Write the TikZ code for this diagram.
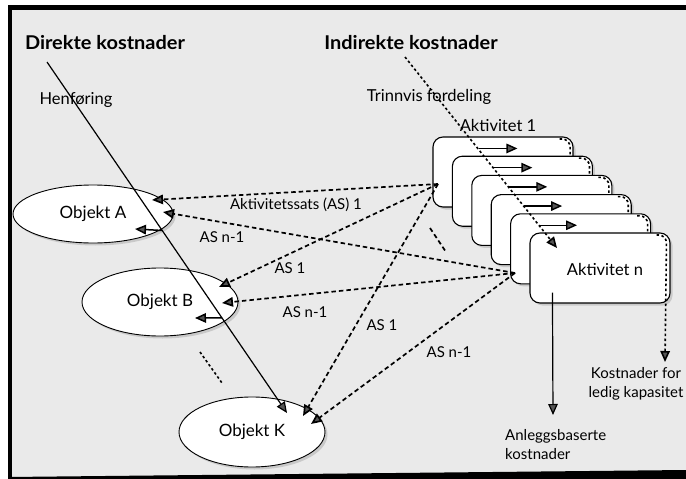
\documentclass[tikz,border=0pt]{standalone}
\usepackage{fontspec}
\setmainfont{Lato}
\newfontfamily\lab{Lato}
\newfontfamily\labh[FakeStretch=1.05]{Lato}
\usetikzlibrary{shapes.geometric,arrows.meta,shadows,calc}
\definecolor{bg}{RGB}{234,234,234}
\definecolor{tipgray}{RGB}{85,85,85}
\tikzset{
  lbl/.style={font=\lab\fontsize{15}{19}\selectfont, inner sep=0pt},
  lblb/.style={font=\lab\fontsize{16.5}{19}\selectfont, inner sep=0pt},
  hdr/.style={font=\labh\bfseries\fontsize{19}{22}\selectfont, inner sep=0pt},
  shad/.style={drop shadow={opacity=0.3, shadow xshift=2.5pt, shadow yshift=-2.5pt}},
  obj/.style={ellipse, draw=black, line width=0.9pt, fill=white, shad, inner sep=0pt,
     font=\lab\fontsize{17}{19}\selectfont},
  act/.style={rectangle, rounded corners=10pt, draw=black, line width=1.1pt, fill=white,
     minimum width=140pt, minimum height=70pt, inner sep=0pt, shad},
  arr/.style={-{Triangle[length=11pt,width=9.5pt,fill=tipgray]}},
  dashl/.style={line width=1.7pt, dash pattern=on 4.5pt off 3pt},
  dotl/.style={line width=1.6pt, dash pattern=on 2.5pt off 2.5pt},
  soll/.style={line width=1.2pt},
}
\begin{document}
\begin{tikzpicture}[x=1pt,y=-1pt]
\useasboundingbox (0,0) rectangle (686,479);
% background and frame
\fill[white] (0,0) rectangle (686,479);
\fill[bg] (12,10) rectangle (686,477);
\fill[black] (8,5) rectangle (686,10);
\fill[black] (8,5) rectangle (12,479);
\fill[black] (8,477) -- (686,470) -- (686,479) -- (8,479) -- cycle;

% cost objects
\node[obj, minimum width=160pt, minimum height=58pt] (objA) at (93,214) {Objekt A};
\node[obj, minimum width=156pt, minimum height=68pt] (objB) at (160,302) {Objekt B};
\node[obj, minimum width=146pt, minimum height=70pt] (objK) at (252,432) {Objekt K};

% activity stack
\foreach \k in {1,...,6}{
  \node[act] (act\k) at ({503+19.4*(\k-1)},{172+19.2*(\k-1)}) {};
}

% texts
\node[hdr] (tdir) at (105,43) {Direkte kostnader};
\node[hdr] (tind) at (411,43) {Indirekte kostnader};
\node[lblb] (then) at (76,100) {Henføring};
\node[lblb] (ttrin) at (429,97) {Trinnvis fordeling};
\node[lblb] (takt1) at (498,125) {Aktivitet 1};
\node[lblb] (taktn) at (605,269) {Aktivitet n};
\node[lbl] (las1a) at (296,205) {Aktivitetssats (AS) 1};
\node[lbl] (lasna) at (222,237) {AS n-1};
\node[lbl] (las1b) at (290,268) {AS 1};
\node[lbl] (lasnb) at (305,312) {AS n-1};
\node[lbl] (las1k) at (382,325) {AS 1};
\node[lbl] (lasnk) at (449,352) {AS n-1};
\node[lbl, align=center] (tkap) at (636,384) {Kostnader for\\ledig kapasitet};
\node[lbl, align=left, anchor=west] (tanl) at (505,445) {Anleggsbaserte\\kostnader};

% coordinates
\coordinate (dtop) at (47,62);
\coordinate (K1) at (287,413);
\coordinate (K2) at (303,416);
\coordinate (K3) at (311,424);
\coordinate (A1) at (152,200);
\coordinate (A2) at (163,212);
\coordinate (Ad) at (135,229);
\coordinate (B1) at (219,287);
\coordinate (B2) at (222,303);
\coordinate (Bd) at (195,318);
\coordinate (P1) at (438,184);
\coordinate (P2) at (515,273);
\coordinate (itop) at (405,57);
\coordinate (itip) at (557,248);
\coordinate (anltip) at (553,415);
\coordinate (kaptip) at (665,362);

% direct costs
\draw[soll, arr] (dtop) -- (K1);
\draw[soll, line width=1.5pt, arr] ($(dtop)!0.48!(K1)$) -- (Ad);
\draw[soll, line width=1.5pt, arr] ($(dtop)!0.729!(K1)$) -- (Bd);

% activity rates
\draw[dashl, arr] (P1) -- (A1);
\draw[dashl, arr] (P1) -- (B1);
\draw[dashl, arr] (P1) -- (K2);
\draw[dashl, arr] (P2) -- (A2);
\draw[dashl, arr] (P2) -- (B2);
\draw[dashl, arr] (P2) -- (K3);

% continuation marks
\coordinate (e1a) at (200,352); \coordinate (e1b) at (222,383);
\draw[dotl] (e1a) -- (e1b);
\coordinate (e2a) at (430,228); \coordinate (e2b) at (446,252);
\draw[dashl] (e2a) -- (e2b);

% stepwise allocation
\draw[dotl, arr] (itop) -- (itip);
\foreach \k in {1,...,5}{
  \draw[soll, line width=1.4pt, arr] ($(act\k.north west)+({47-4.5*(\k-1)},12)$) -- ++(38,0);
  \draw[dotl, rounded corners=8pt] ($(act\k.north east)+(-14,2.5)$) -- ($(act\k.north east)+(-3.5,2.5)$) -- ($(act\k.north east)+(-3.5,19)$);
}
\draw[dotl, rounded corners=8pt, arr] ($(act6.north east)+(-14,2.5)$) -- ($(act6.north east)+(-4,2.5)$) -- (kaptip);
\draw[soll, arr] ($(act6.south west)+(23,-11)$) -- (anltip);
\end{tikzpicture}
\end{document}
